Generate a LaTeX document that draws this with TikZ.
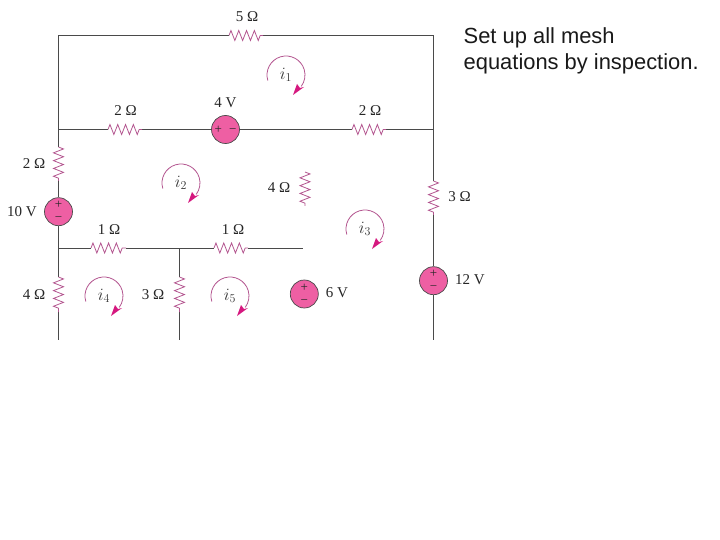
\documentclass[tikz,border=0pt]{standalone}
\usepackage{fontspec}
\setmainfont{Liberation Serif}
\newfontfamily\headfont{Liberation Sans}
\usetikzlibrary{decorations.pathmorphing}
\definecolor{wirec}{HTML}{4A4A4A}
\definecolor{resc}{HTML}{B3558F}
\definecolor{srcc}{HTML}{EE5FA3}
\definecolor{arrc}{HTML}{D5187F}
\tikzset{
 x=1pt,y=1pt,
 wire/.style={draw=wirec,line width=1pt},
 res/.style={draw=resc,line width=0.8pt,decorate,decoration={zigzag,amplitude=5pt,segment length=7.8pt}},
 src/.style={circle,draw=wirec,line width=0.7pt,fill=srcc,minimum size=28pt,inner sep=0pt,align=center,text=black!85,font=\fontsize{13}{13}\selectfont},
 lab/.style={font=\fontsize{15}{15}\selectfont,text=black!85,inner sep=0pt},
 cur/.style={font=\fontsize{17}{17}\selectfont,text=black!80,inner sep=0pt},
 loopc/.style={draw=resc,line width=0.8pt},
 tipc/.style={fill=arrc,draw=none},
}
\newcommand{\meshloop}[4]{%
 \coordinate (#1) at (#2,#3);
 \draw[loopc] ([shift={(197:19pt)}]#1) arc[start angle=197,end angle=-37,radius=19pt];
 \fill[tipc] ([shift={(7pt,-20pt)}]#1) -- ([shift={(18pt,-12pt)}]#1) -- ([shift={(14pt,-13pt)}]#1) -- ([shift={(11pt,-9pt)}]#1) -- cycle;
 \node[cur] (#1t) at (#1) {$#4$};
}
\begin{document}
\begin{tikzpicture}
\useasboundingbox (0,0) rectangle (720,-540);
% corners and junctions
\coordinate (tl) at (58.5,-35.5);
\coordinate (tr) at (433.5,-35.5);
\coordinate (ml) at (58.5,-129.5);
\coordinate (mr) at (433.5,-129.5);
\coordinate (ll) at (58.5,-248);
\coordinate (lm) at (179.5,-248);
\coordinate (le) at (303,-248);
\coordinate (bl) at (58.5,-340);
\coordinate (bm) at (179.5,-340);
\coordinate (br) at (433.5,-340);
% resistor ends
\coordinate (r5a) at (229,-35.5); \coordinate (r5b) at (263,-35.5);
\coordinate (r2la) at (108,-129.5); \coordinate (r2lb) at (142,-129.5);
\coordinate (r2ra) at (352,-129.5); \coordinate (r2rb) at (386,-129.5);
\coordinate (r2va) at (58.5,-147); \coordinate (r2vb) at (58.5,-181);
\coordinate (r1la) at (91,-248); \coordinate (r1lb) at (126,-248);
\coordinate (r1ra) at (214,-248); \coordinate (r1rb) at (248,-248);
\coordinate (r4la) at (58.5,-277); \coordinate (r4lb) at (58.5,-312);
\coordinate (r3ma) at (179.5,-277); \coordinate (r3mb) at (179.5,-312);
\coordinate (r4ma) at (305,-172); \coordinate (r4mb) at (305,-206);
\coordinate (r3ra) at (433.5,-181); \coordinate (r3rb) at (433.5,-215);
% sources
\node[src] (v4) at (225.5,-129.5) {+\;\;−};
\node[src] (v10) at (58.5,-211.7) {+\\−};
\node[src] (v12) at (433.5,-280.7) {+\\−};
\node[src] (v6) at (304.3,-294) {+\\−};
% wires
\draw[wire] (r5a) -- (tl) -- (r2va);
\draw[wire] (r5b) -- (tr) -- (r3ra);
\draw[wire] (ml) -- (r2la);
\draw[wire] (r2lb) -- (v4);
\draw[wire] (v4) -- (r2ra);
\draw[wire] (r2rb) -- (mr);
\draw[wire] (r2vb) -- (v10);
\draw[wire] (v10) -- (r4la);
\draw[wire] (r4lb) -- (bl);
\draw[wire] (ll) -- (r1la);
\draw[wire] (r1lb) -- (r1ra);
\draw[wire] (r1rb) -- (le);
\draw[wire] (lm) -- (r3ma);
\draw[wire] (r3mb) -- (bm);
\draw[wire] (r3rb) -- (v12);
\draw[wire] (v12) -- (br);
% resistors
\foreach \a/\b in {r5a/r5b,r2la/r2lb,r2ra/r2rb,r2va/r2vb,r1la/r1lb,r1ra/r1rb,r4la/r4lb,r3ma/r3mb,r4ma/r4mb,r3ra/r3rb}
  \draw[res] (\a) -- (\b);
% labels
\node[lab] (l5) at (247,-17) {5 Ω};
\node[lab] (l2a) at (125.5,-111) {2 Ω};
\node[lab] (l4v) at (225.5,-103) {4 V};
\node[lab] (l2b) at (370,-111) {2 Ω};
\node[lab] (l2c) at (34,-164) {2 Ω};
\node[lab] (l10) at (22,-212) {10 V};
\node[lab] (l1a) at (109,-230) {1 Ω};
\node[lab] (l1b) at (233,-230) {1 Ω};
\node[lab] (l4a) at (34,-295) {4 Ω};
\node[lab] (l3a) at (153,-295) {3 Ω};
\node[lab] (l4b) at (279,-188) {4 Ω};
\node[lab] (l3b) at (459.5,-197) {3 Ω};
\node[lab] (l12) at (470,-280) {12 V};
\node[lab] (l6) at (337,-293) {6 V};
% mesh currents
\meshloop{m1}{286}{-75}{i_1}
\meshloop{m2}{181}{-183}{i_2}
\meshloop{m3}{365}{-229}{i_3}
\meshloop{m4}{104}{-296}{i_4}
\meshloop{m5}{230}{-296}{i_5}
% heading
\node[anchor=north west,align=left,inner sep=0pt,font=\headfont\fontsize{21.9}{26}\selectfont,text=black!90] (head) at (463.5,-27) {Set up all mesh\\equations by inspection.};
\end{tikzpicture}
\end{document}
